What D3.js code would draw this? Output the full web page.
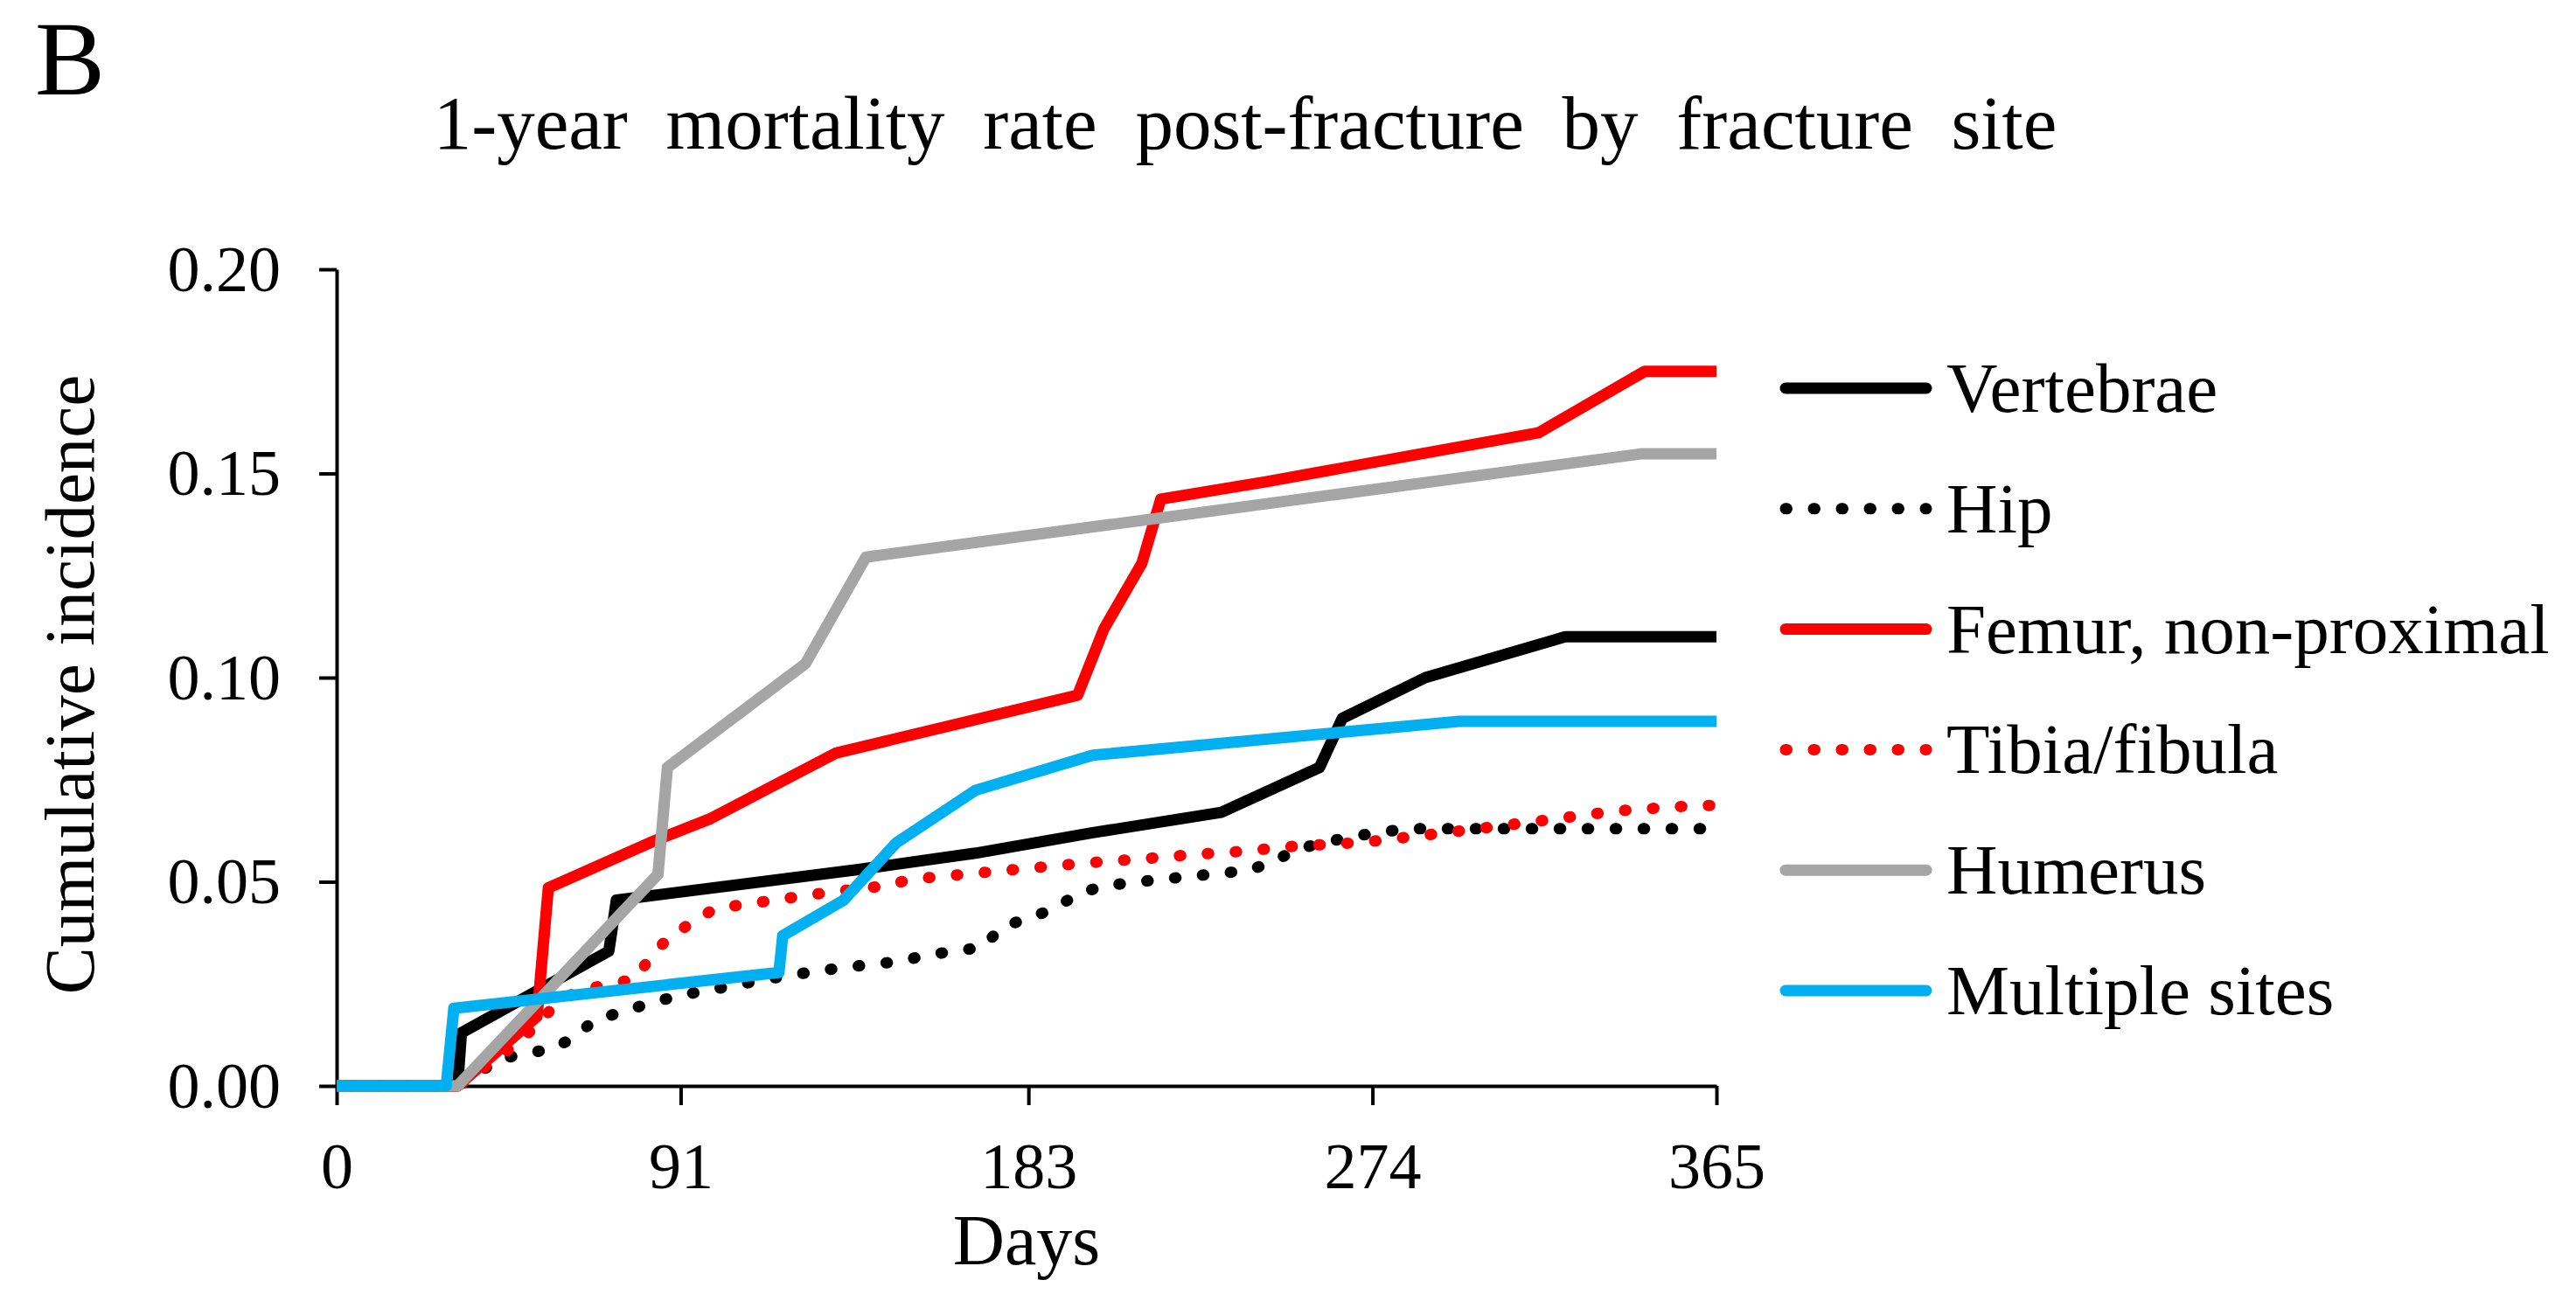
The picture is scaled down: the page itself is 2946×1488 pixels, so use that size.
<!DOCTYPE html>
<html>
<head>
<meta charset="utf-8">
<script src="https://cdn.jsdelivr.net/npm/d3@7"></script>
<style>
  body { margin: 0; background: #fff; }
  svg { display: block; font-family: "Liberation Serif", "Times New Roman", serif; }
</style>
</head>
<body>
<main></main>
<script>
// values: [day, cumulative incidence]
const vertebrae = [[0,0],[32,0],[33,0.013],[72,0.033],[74,0.0455],[138,0.053],[169,0.057],[200,0.062],[234,0.067],[260,0.078],[266,0.090],[288,0.100],[325,0.110],[365,0.110]];
const hip = [[0,0],[32,0],[43,0.0065],[50,0.008],[57,0.009],[63,0.012],[68,0.016],[75,0.018],[82,0.020],[90,0.022],[119,0.027],[134,0.029],[149,0.0305],[156,0.032],[171,0.034],[176,0.039],[183,0.041],[190,0.0435],[196,0.047],[203,0.049],[218,0.0506],[233,0.052],[241,0.0527],[248,0.055],[254,0.058],[261,0.0595],[268,0.061],[283,0.063],[365,0.063]];
const femur = [[0,0],[32,0],[53,0.017],[56,0.0485],[84,0.060],[99,0.0655],[132,0.0815],[196,0.0957],[203,0.112],[213,0.128],[218,0.1437],[246,0.148],[318,0.160],[346,0.175],[365,0.175]];
const tibia = [[0,0],[32,0],[43,0.007],[52,0.014],[57,0.019],[64,0.0236],[72,0.0247],[79,0.0263],[83,0.0315],[88,0.0365],[94,0.040],[100,0.0434],[115,0.0454],[130,0.0474],[145,0.049],[152,0.0506],[168,0.052],[183,0.0533],[198,0.0546],[213,0.0556],[227,0.0567],[242,0.0576],[250,0.0585],[265,0.0593],[272,0.0597],[287,0.0613],[309,0.0638],[324,0.0656],[339,0.0674],[360,0.0687],[365,0.0687]];
const humerus = [[0,0],[32,0],[85,0.0518],[87.5,0.078],[124,0.1034],[140,0.1295],[345,0.1548],[365,0.1548]];
const multiple = [[0,0],[29,0],[31,0.019],[117,0.0278],[118,0.0368],[134,0.0454],[148,0.0595],[169,0.0724],[200,0.081],[297,0.0893],[365,0.0893]];

const seriesNames = ["Vertebrae", "Hip", "Femur, non-proximal", "Tibia/fibula", "Humerus", "Multiple sites"];
const seriesData = [vertebrae, hip, femur, tibia, humerus, multiple];
const seriesColors = ["#000000", "#000000", "#ff0000", "#ff0000", "#a5a5a5", "#00b0f0"];
const seriesDotted = [false, true, false, true, false, false];

const xTicks = [0, 91, 183, 274, 365];
const yTicks = [0, 0.05, 0.10, 0.15, 0.20];

const size = { width: 2946, height: 1488 };
const plot = { left: 385, right: 1963, top: 308, bottom: 1242 };

const svg = d3.select('main').append('svg')
  .attr('width', size.width)
  .attr('height', size.height);

const xScale = d3.scaleLinear().domain([0, 365]).range([plot.left, plot.right]);
const yScale = d3.scaleLinear().domain([0, 0.20]).range([plot.bottom, plot.top]);

// panel letter and title
svg.append('text').attr('x', 40).attr('y', 108).attr('font-size', 120).text('B');
svg.append('text')
  .attr('x', 1424).attr('y', 170)
  .attr('text-anchor', 'middle')
  .attr('font-size', 87)
  .style('word-spacing', '22px')
  .text('1-year mortality rate post-fracture by fracture site');

// axes
const yAxis = svg.append('g')
  .attr('transform', `translate(${plot.left},0)`)
  .call(d3.axisLeft(yScale).tickValues(yTicks).tickFormat(d3.format('.2f')).tickSize(20).tickSizeOuter(0));
const xAxis = svg.append('g')
  .attr('transform', `translate(0,${plot.bottom})`)
  .call(d3.axisBottom(xScale).tickValues(xTicks).tickFormat(d3.format('d')).tickSize(22).tickSizeOuter(0));

[yAxis, xAxis].forEach(ax => {
  ax.select('.domain').attr('stroke', '#000').attr('stroke-width', 4);
  ax.selectAll('.tick line').attr('stroke', '#000').attr('stroke-width', 4);
  ax.selectAll('.tick text')
    .attr('fill', '#000')
    .attr('font-size', 74)
    .attr('font-family', '"Liberation Serif", "Times New Roman", serif');
});
yAxis.selectAll('.tick text').attr('x', -64).attr('dy', '0.33em');
xAxis.selectAll('.tick text').attr('y', 117).attr('dy', 0);

svg.append('text')
  .attr('x', 1174).attr('y', 1446)
  .attr('text-anchor', 'middle')
  .attr('font-size', 82)
  .text('Days');

svg.append('text')
  .attr('transform', 'translate(107,783) rotate(-90)')
  .attr('text-anchor', 'middle')
  .attr('font-size', 81)
  .text('Cumulative incidence');

// curves
const line = d3.line().x(d => xScale(d[0])).y(d => yScale(d[1]));

seriesData.forEach((data, i) => {
  const path = svg.append('path')
    .datum(data)
    .attr('d', line)
    .attr('fill', 'none')
    .attr('stroke', seriesColors[i])
    .attr('stroke-width', 13)
    .attr('stroke-linejoin', 'round');
  if (seriesDotted[i]) {
    path.attr('stroke-dasharray', '1.5 30.5')
      .attr('stroke-dashoffset', -16)
      .attr('stroke-linecap', 'round');
  }
});

// legend
const legend = svg.append('g');
seriesNames.forEach((name, i) => {
  const ly = 444 + i * 137.8;
  const sw = legend.append('line')
    .attr('x1', 2042).attr('x2', 2203)
    .attr('y1', ly).attr('y2', ly)
    .attr('stroke', seriesColors[i])
    .attr('stroke-width', 13)
    .attr('stroke-linecap', 'round');
  if (seriesDotted[i]) sw.attr('stroke-dasharray', '1.5 30.5');
  legend.append('text')
    .attr('x', 2226).attr('y', ly + 27)
    .attr('font-size', 81)
    .text(name);
});
</script>
</body>
</html>
